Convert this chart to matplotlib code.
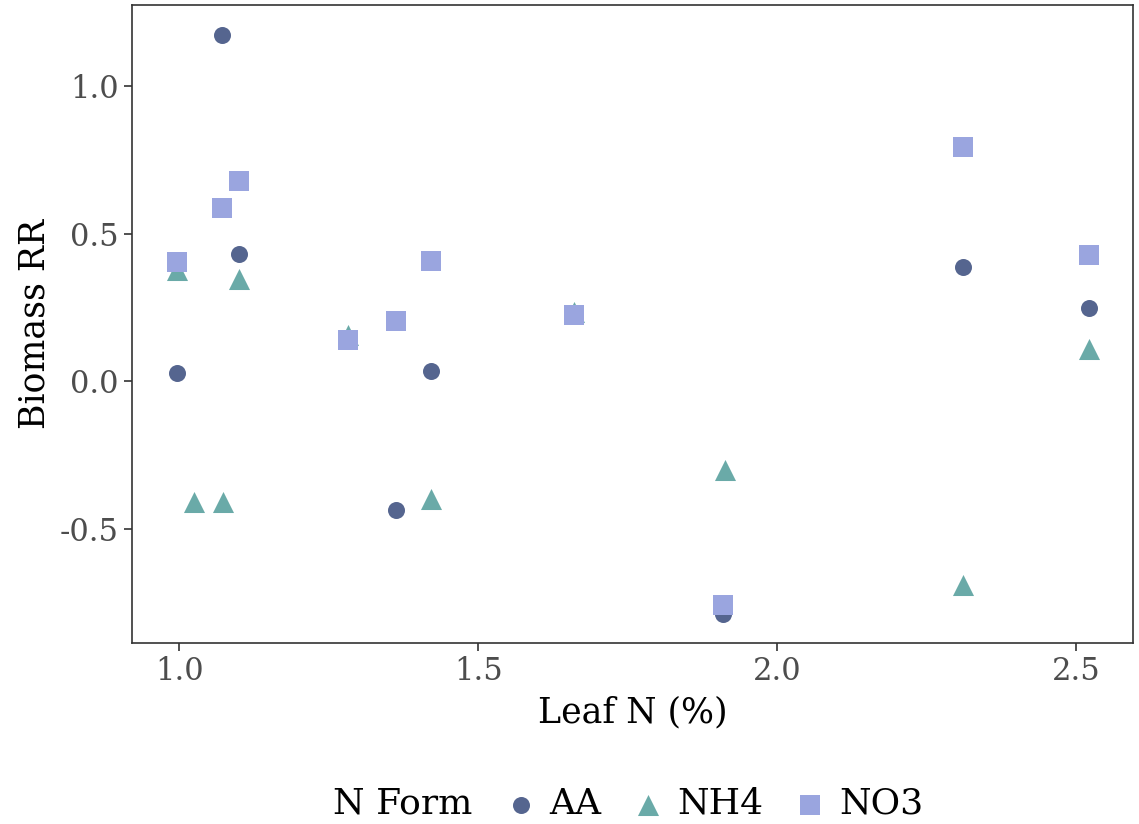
import matplotlib
matplotlib.use("Agg")
import matplotlib.pyplot as plt

# values
leaf_n = [0.997, 1.072, 1.100, 1.283, 1.363, 1.421, 1.660, 1.910, 2.311, 2.522]
aa = [0.027, 1.173, 0.432, 0.145, -0.437, 0.034, 0.232, -0.790, 0.386, 0.247]
nh4_x = [0.997, 1.025, 1.074, 1.100, 1.283, 1.421, 1.660, 1.913, 2.311, 2.522]
nh4 = [0.376, -0.410, -0.410, 0.345, 0.156, -0.400, 0.234, -0.300, -0.690, 0.108]
no3 = [0.403, 0.586, 0.680, 0.139, 0.203, 0.407, 0.224, -0.760, 0.793, 0.427]

colors = {"AA": "#55658f", "NH4": "#6aaaa8", "NO3": "#9aa5df"}

plt.rcParams['font.family'] = ['DejaVu Serif']

fig = plt.figure(figsize=(11.39, 8.24), dpi=100)
ax = fig.add_axes([132 / 1139, 1 - 643 / 824, 1001 / 1139, 638 / 824])

ax.scatter(leaf_n, aa, s=150, marker='o', color=colors["AA"], label="AA", linewidths=0)
ax.scatter(nh4_x, nh4, s=230, marker='^', color=colors["NH4"], label="NH4", linewidths=0)
ax.scatter(leaf_n, no3, s=200, marker='s', color=colors["NO3"], label="NO3", linewidths=0)

ax.set_xlim(0.921, 2.595)
ax.set_ylim(-0.888, 1.275)
ax.set_xticks([1.0, 1.5, 2.0, 2.5])
ax.set_yticks([-0.5, 0.0, 0.5, 1.0])
ax.set_xticklabels(["1.0", "1.5", "2.0", "2.5"])
ax.set_yticklabels(["-0.5", "0.0", "0.5", "1.0"])
ax.tick_params(labelsize=22, labelcolor="#4d4d4d", color="#333333", length=6, width=1.2)
for sp in ax.spines.values():
    sp.set_color("#333333")
    sp.set_linewidth(1.2)

ax.set_xlabel("Leaf N (%)", fontsize=25, labelpad=6)
ax.set_ylabel("Biomass RR", fontsize=25, labelpad=6)

# legend at the bottom: title on the left, entries in one row
fig.text(333 / 1139, 1 - 804 / 824, "N Form", fontsize=26, ha="left", va="center")
fig.legend(loc="center left", bbox_to_anchor=(470 / 1139, 1 - 804 / 824), ncol=3,
           frameon=False, fontsize=26, handletextpad=0.3, columnspacing=0.8,
           handlelength=1.0)

fig.savefig("out.png", dpi=100)
